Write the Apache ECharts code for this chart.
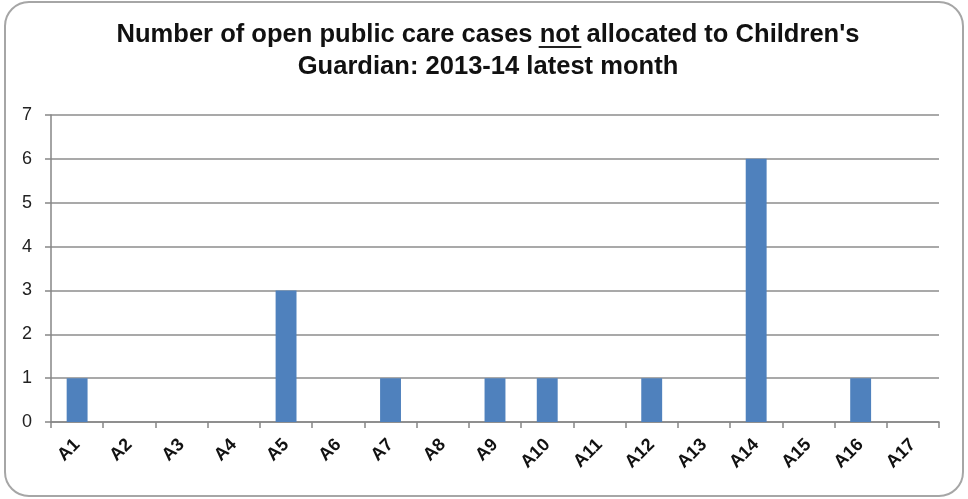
<!DOCTYPE html>
<html>
<head>
<meta charset="utf-8">
<script src="https://cdn.jsdelivr.net/npm/echarts@6/dist/echarts.min.js"></script>
<style>
  html, body { margin: 0; padding: 0; background: #fff; }
  #main { width: 968px; height: 499px; }
</style>
</head>
<body>
<div id="main"></div>
<script>
  let categories = ['A1', 'A2', 'A3', 'A4', 'A5', 'A6', 'A7', 'A8', 'A9', 'A10', 'A11', 'A12', 'A13', 'A14', 'A15', 'A16', 'A17']
  let cases = [1, 0, 0, 0, 3, 0, 1, 0, 1, 1, 0, 1, 0, 6, 0, 1, 0]
  let yTicks = [0, 1, 2, 3, 4, 5, 6, 7]

  let titleLine1 = 'Number of open public care cases not allocated to Children\'s'
  let titleLine2 = 'Guardian: 2013-14 latest month'
  let titleFont = 'bold 26px "Liberation Sans", Arial, sans-serif'

  // the title is a bit condensed in the original, stretch to fit its width
  let ctx = document.createElement('canvas').getContext('2d')
  ctx.font = titleFont
  let w1 = ctx.measureText(titleLine1).width
  let wBefore = ctx.measureText('Number of open public care cases ').width
  let wNot = ctx.measureText('not').width
  let sx = 743 / w1
  let ux0 = -w1 / 2 + wBefore - 1

  let chart = echarts.init(document.getElementById('main'))
  chart.setOption({
    animation: false,
    graphic: [
      {
        type: 'rect',
        shape: { x: 5, y: 2, width: 958, height: 494, r: 24 },
        style: { fill: 'none', stroke: '#a6a6a6', lineWidth: 2 },
        silent: true
      },
      {
        type: 'group',
        x: 488,
        y: 0,
        scaleX: sx,
        silent: true,
        children: [
          {
            type: 'text',
            x: 0,
            y: 35,
            style: { text: titleLine1, font: titleFont, fill: '#111', align: 'center', verticalAlign: 'middle' }
          },
          {
            type: 'text',
            x: 0,
            y: 67,
            style: { text: titleLine2, font: titleFont, fill: '#111', align: 'center', verticalAlign: 'middle' }
          },
          {
            type: 'line',
            shape: { x1: ux0, y1: 47, x2: ux0 + wNot + 3, y2: 47 },
            style: { stroke: '#222', lineWidth: 2 }
          }
        ]
      }
    ],
    grid: {
      left: 51,
      right: 29,
      top: 115,
      bottom: 77
    },
    xAxis: {
      type: 'category',
      data: categories,
      axisLine: { lineStyle: { color: '#868686', width: 1.5 } },
      axisTick: { show: true, length: 6, lineStyle: { color: '#868686', width: 1.5 } },
      axisLabel: {
        rotate: 45,
        interval: 0,
        margin: 20,
        fontFamily: 'Liberation Sans, Arial, sans-serif',
        fontWeight: 'bold',
        fontSize: 18,
        color: '#111'
      }
    },
    yAxis: {
      type: 'value',
      min: yTicks[0],
      max: yTicks[yTicks.length - 1],
      interval: 1,
      axisLine: { show: true, lineStyle: { color: '#868686', width: 1.5 } },
      axisTick: { show: true, length: 6, lineStyle: { color: '#868686', width: 1.5 } },
      splitLine: { lineStyle: { color: '#8c8c8c', width: 1.5 } },
      axisLabel: {
        margin: 19,
        fontFamily: 'Liberation Sans, Arial, sans-serif',
        fontSize: 18,
        color: '#222'
      }
    },
    series: [
      {
        type: 'bar',
        data: cases,
        barWidth: '40%',
        itemStyle: { color: '#4f81bd' }
      }
    ]
  })
</script>
</body>
</html>
